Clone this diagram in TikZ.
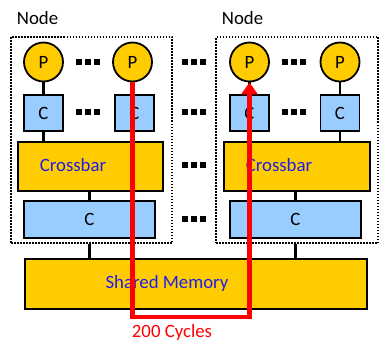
\documentclass[tikz,border=0pt]{standalone}
\usepackage{fontspec}
\setmainfont{Carlito}
\usetikzlibrary{arrows.meta}
\definecolor{gold}{RGB}{255,204,0}
\definecolor{cblue}{RGB}{153,204,255}
\definecolor{tblue}{RGB}{30,30,235}
\definecolor{rred}{RGB}{255,0,0}
\newcommand\sqdots{\rule{6pt}{6pt}\hspace{3pt}\rule{6pt}{6pt}\hspace{3pt}\rule{6pt}{6pt}}
\begin{document}
\begin{tikzpicture}[x=1pt,y=-1pt,
  every node/.style={font=\fontsize{18.8}{20}\selectfont},
  proc/.style={circle,draw=black,line width=1.8pt,fill=gold,minimum size=39pt,inner sep=0pt},
  cache/.style={rectangle,draw=black,line width=1.8pt,fill=cblue,minimum width=39pt,minimum height=36pt,inner sep=0pt},
  bar/.style={rectangle,draw=black,line width=1.8pt,fill=gold,inner sep=0pt},
  wide/.style={rectangle,draw=black,line width=1.8pt,fill=cblue,inner sep=0pt},
  nodebox/.style={rectangle,draw=black,line width=1.8pt,dash pattern=on 1.5pt off 1.5pt,inner sep=0pt},
  link/.style={draw=black,line width=2.2pt},
  btxt/.style={text=tblue,inner sep=0pt},
  dotsn/.style={inner sep=0pt},
  path/.style={draw=rred,line width=4.5pt}
]
\useasboundingbox (0,0) rectangle (379,342);
% node frames
\node[nodebox,minimum width=161pt,minimum height=206pt] (NL) at (91.5,140) {};
\node[nodebox,minimum width=162pt,minimum height=206pt] (NR) at (297,140) {};
\node[inner sep=0pt] (tNL) at (37.5,18) {Node};
\node[inner sep=0pt] (tNR) at (242.5,18) {Node};
% shared memory
\node[bar,minimum width=342pt,minimum height=50pt] (SM) at (196,284) {};
\node[btxt] (tSM) at (167,283) {Shared Memory};
% left node
\node[proc] (P1L) at (43.5,62) {P};
\node[proc] (P2L) at (132.5,62) {P};
\node[cache] (C1L) at (43.5,113) {C};
\node[cache] (C2L) at (134.5,113) {C};
\node[bar,minimum width=145pt,minimum height=49pt] (XL) at (90.5,166.5) {};
\node[btxt] (tXL) at (73,165) {Crossbar};
\node[wide,minimum width=131pt,minimum height=37pt] (CL) at (89.5,219.5) {C};
% right node
\node[proc] (P1R) at (249.5,62) {P};
\node[proc] (P2R) at (340,62) {P};
\node[cache] (C1R) at (249.5,113) {C};
\node[cache] (C2R) at (340,113) {C};
\node[bar,minimum width=146pt,minimum height=49pt] (XR) at (297,166.5) {};
\node[btxt] (tXR) at (279,165) {Crossbar};
\node[wide,minimum width=131pt,minimum height=37pt] (CR) at (295.5,219.5) {C};
% dots
\node[dotsn] (d1) at (88,62) {\sqdots};
\node[dotsn] (d2) at (88,112) {\sqdots};
\node[dotsn] (d3) at (294,62) {\sqdots};
\node[dotsn] (d4) at (294,112) {\sqdots};
\node[dotsn] (d5) at (194,62) {\sqdots};
\node[dotsn] (d6) at (194,112) {\sqdots};
\node[dotsn] (d7) at (194,164.5) {\sqdots};
\node[dotsn] (d8) at (194,219) {\sqdots};
% links
\draw[link] (P1L) -- (C1L);
\draw[link] (C1L) -- (C1L|-XL.north);
\draw[link] (P2L) -- (P2L|-C2L.north);
\draw[link] (C2L.south-|P2L) -- (P2L|-XL.north);
\draw[link] (XL.south-|CL.north) -- (CL.north);
\draw[link] (NL.south-|CL.north) -- (CL.north|-SM.north);
\draw[link] (P1R) -- (C1R);
\draw[link] (C1R) -- (C1R|-XR.north);
\draw[link] (P2R) -- (C2R);
\draw[link] (C2R) -- (C2R|-XR.north);
\draw[link] (XR.south-|CR.north) -- (CR.north);
\draw[link] (NR.south-|CR.north) -- (CR.north|-SM.north);
% red path
\coordinate (b1) at (132.5,317);
\coordinate (b2) at (249.5,317);
\draw[path,-{Triangle[width=16pt,length=12pt]}] (P2L.south) -- (b1) -- (b2) -- (P1R.south);
\node[text=rred,inner sep=0pt] (t200) at (172,332) {200 Cycles};
\end{tikzpicture}
\end{document}
